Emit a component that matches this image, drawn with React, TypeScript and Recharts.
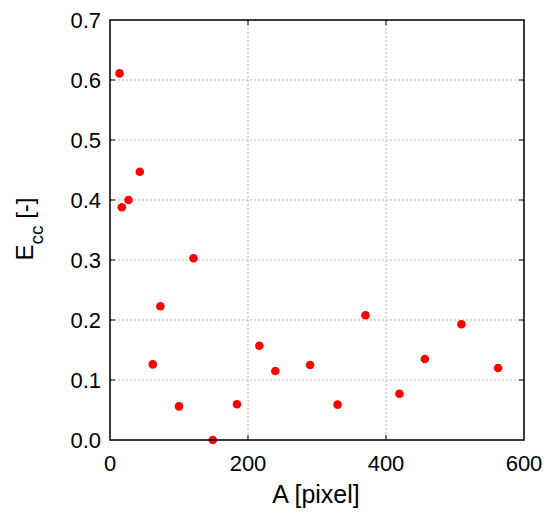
import React from "react";
import { ScatterChart, Scatter, XAxis, YAxis, CartesianGrid } from "recharts";

// measured area [pixel] vs. Ecc [-]
const areaPx = [
  13.8, 17.1, 26.8, 43.2, 62, 73, 100, 121, 149, 184, 216.4, 239.6, 290, 329.8,
  370.3, 419.5, 456.3, 509.3, 562.4,
];
const ecc = [
  0.611, 0.388, 0.4, 0.447, 0.126, 0.223, 0.056, 0.303, 0, 0.0595, 0.157, 0.115,
  0.125, 0.059, 0.208, 0.077, 0.135, 0.193, 0.12,
];

const xTicks = [0, 200, 400, 600];
const yTicks = [0, 0.1, 0.2, 0.3, 0.4, 0.5, 0.6, 0.7];

const points = areaPx.map((a, i) => ({ a, e: ecc[i] }));

const FONT = "'Liberation Sans', Arial, sans-serif";

// plot box inside the 553x513 chart
const W = 553;
const H = 513;
const M = { top: 20, right: 29, bottom: 0, left: 0 };
const Y_AXIS_W = 110;
const X_AXIS_H = 73;
const PLOT_L = M.left + Y_AXIS_W;
const PLOT_T = M.top;
const PLOT_W = W - M.right - PLOT_L;
const PLOT_H = H - M.bottom - X_AXIS_H - PLOT_T;
const TICK = 5;

const xPos = (v: number) => PLOT_L + (v / 600) * PLOT_W;
const yPos = (v: number) => PLOT_T + PLOT_H - (v / 0.7) * PLOT_H;

const BottomTick = (props: any) => {
  const { x, y, payload } = props;
  return (
    <text
      x={Number(x)}
      y={Number(y) + 29}
      textAnchor="middle"
      fontSize={22}
      fontFamily={FONT}
      fill="#000"
    >
      {payload.value}
    </text>
  );
};

const LeftTick = (props: any) => {
  const { x, y, payload } = props;
  return (
    <text
      x={Number(x) - 7}
      y={Number(y) + 8}
      textAnchor="end"
      fontSize={22}
      fontFamily={FONT}
      fill="#000"
    >
      {payload.value.toFixed(1)}
    </text>
  );
};

export default function App() {
  return (
    <div style={{ position: "absolute", left: 0, top: 0, background: "#fff" }}>
      <ScatterChart width={W} height={H} margin={M}>
        <CartesianGrid
          stroke="#b5b5b5"
          strokeDasharray="2 2"
          horizontalValues={yTicks}
          verticalValues={xTicks}
        />
        <XAxis
          type="number"
          dataKey="a"
          domain={[0, 600]}
          ticks={xTicks}
          height={X_AXIS_H}
          tickSize={0}
          tickLine={false}
          axisLine={false}
          tick={<BottomTick />}
          interval={0}
        />
        <YAxis
          type="number"
          dataKey="e"
          domain={[0, 0.7]}
          ticks={yTicks}
          width={Y_AXIS_W}
          tickSize={0}
          tickLine={false}
          axisLine={false}
          tick={<LeftTick />}
          interval={0}
        />
        <Scatter
          data={points}
          fill="#ff0000"
          isAnimationActive={false}
          shape={(p: any) => (
            <circle cx={p.cx} cy={p.cy} r={4.3} fill="#ff0000" />
          )}
        />
      </ScatterChart>
      {/* box frame, inward ticks and axis titles */}
      <svg
        width={W}
        height={H}
        style={{ position: "absolute", left: 0, top: 0, pointerEvents: "none" }}
      >
        <rect
          x={PLOT_L}
          y={PLOT_T}
          width={PLOT_W}
          height={PLOT_H}
          fill="none"
          stroke="#000"
          strokeWidth={1.5}
        />
        {xTicks.slice(1, -1).map((t) => (
          <g key={`x${t}`}>
            <line
              x1={xPos(t)}
              x2={xPos(t)}
              y1={PLOT_T + PLOT_H}
              y2={PLOT_T + PLOT_H - TICK}
              stroke="#000"
            />
            <line
              x1={xPos(t)}
              x2={xPos(t)}
              y1={PLOT_T}
              y2={PLOT_T + TICK}
              stroke="#000"
            />
          </g>
        ))}
        {yTicks.slice(1, -1).map((t) => (
          <g key={`y${t}`}>
            <line
              x1={PLOT_L}
              x2={PLOT_L + TICK}
              y1={yPos(t)}
              y2={yPos(t)}
              stroke="#000"
            />
            <line
              x1={PLOT_L + PLOT_W}
              x2={PLOT_L + PLOT_W - TICK}
              y1={yPos(t)}
              y2={yPos(t)}
              stroke="#000"
            />
          </g>
        ))}
        <text
          x={316}
          y={503}
          textAnchor="middle"
          fontSize={25}
          fontFamily={FONT}
          fill="#000"
        >
          A [pixel]
        </text>
        <text
          transform="translate(33,229) rotate(-90)"
          textAnchor="middle"
          fontSize={24}
          fontFamily={FONT}
          fill="#000"
        >
          E
          <tspan fontSize={19} dy={10}>
            cc
          </tspan>
          <tspan dy={-10}> [-]</tspan>
        </text>
      </svg>
    </div>
  );
}
